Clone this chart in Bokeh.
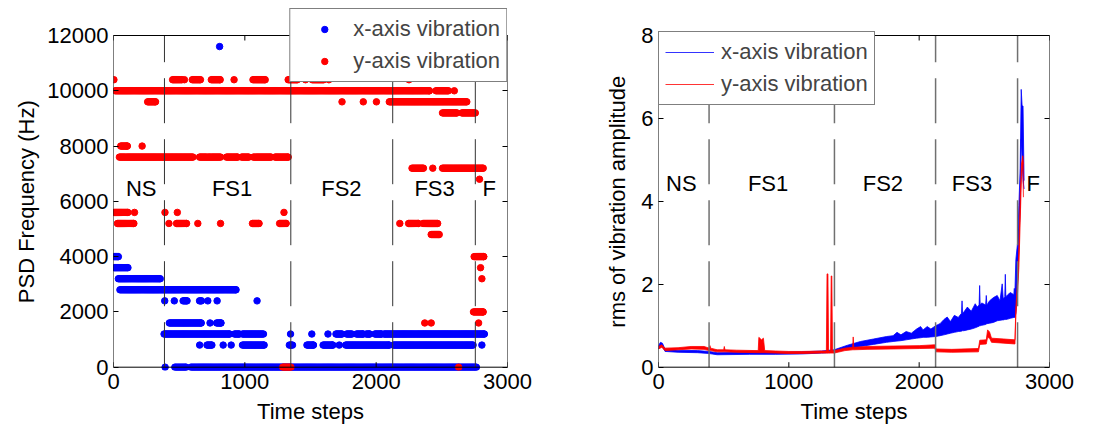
import math
from bokeh.plotting import figure
from bokeh.models import Range1d, LinearAxis, FixedTicker, Legend, LegendItem
from bokeh.layouts import row
from bokeh.embed import file_html
from bokeh.resources import INLINE
from bokeh.core.properties import value

FONT = "Liberation Sans"

# ---------------- shared stage information ----------------
boundaries = [388, 1350, 2126, 2755]
stage_names = ["NS", "FS1", "FS2", "FS3", "F"]
stage_x_left = [211, 903, 1735, 2445, 2860]
stage_y_left = 6450
stage_x_right = [175, 841, 1722, 2405, 2875]
stage_y_right = 4.42

x_ticks = [0, 1000, 2000, 3000]
psd_ticks = [0, 2000, 4000, 6000, 8000, 10000, 12000]
rms_ticks = [0, 2, 4, 6, 8]
t_min, t_max = 0, 3000
psd_min, psd_max = 0, 12000
rms_min, rms_max = 0, 8

# ---------------- left: PSD peak frequency runs (time-step ranges) ----------------
x_psd_start = [0, 0, 37, 49,
               390, 463, 530, 655, 718, 789, 1093,
               425, 735, 785,
               385, 921, 982, 1348, 1510, 1633, 1694, 1775, 1850, 1925, 1990, 2060,
               656, 712, 835, 896, 982, 1339, 1473, 1596, 1719, 1768, 2131, 2805,
               393, 467, 589,
               808]
x_psd_end = [37, 110, 356, 933,
             390, 463, 560, 670, 718, 789, 1093,
             668, 735, 818,
             884, 958, 1142, 1348, 1510, 1633, 1740, 1815, 1900, 1950, 2040, 2824,
             656, 749, 835, 896, 1147, 1363, 1522, 1669, 1719, 2099, 2738, 2805,
             393, 553, 2763,
             808]
x_psd_freq = [4000, 3600, 3200, 2800,
              2400, 2400, 2400, 2400, 2400, 2400, 2400,
              1600, 1600, 1600,
              1200, 1200, 1200, 1200, 1200, 1200, 1200, 1200, 1200, 1200, 1200, 1200,
              800, 800, 800, 800, 800, 800, 800, 800, 800, 800, 800, 800,
              0, 0, 0,
              11600]

y_psd_start = [3, 450, 540, 600, 745, 918, 1062, 1330, 1462, 1513, 1640, 2250,
               12, 2455, 2595,
               260, 1740, 1902, 2002, 2100,
               2505, 2652,
               55, 218,
               45, 655, 860, 975, 1065, 1230,
               2273, 2431, 2505,
               2787,
               0, 160, 392, 486, 1298,
               30, 422, 480, 642, 815, 1058, 1265, 2180, 2247, 2357,
               2419,
               2746, 2795, 2805, 2741,
               2370, 2419, 2780,
               1289, 2628]
y_psd_end = [3, 521, 540, 662, 812, 918, 1155, 1400, 1462, 1600, 1640, 2250,
             2405, 2550, 2595,
             320, 1740, 1902, 2002, 2690,
             2615, 2755,
             105, 218,
             605, 815, 945, 1030, 1200, 1330,
             2360, 2431, 2815,
             2787,
             110, 160, 392, 486, 1298,
             155, 422, 556, 642, 815, 1108, 1314, 2180, 2320, 2468,
             2480,
             2819, 2795, 2805, 2814,
             2370, 2419, 2780,
             1351, 2628]
y_psd_freq = [10400] * 12 + [10000] * 3 + [9600] * 5 + [9200] * 2 + [8000] * 2 + \
             [7600] * 6 + [7200] * 3 + [6800] + [5600] * 5 + [5200] * 10 + [4800] + \
             [4000, 3600, 3200, 2000] + [1600] * 3 + [0, 0]

# ---------------- right: rms envelopes (low / high) ----------------
rms_x_t = [0, 15, 30, 50, 150, 300, 388, 450, 700, 900,
           1100, 1250, 1348, 1450, 1550, 1650, 1750, 1800, 1830, 1860,
           1900, 1940, 1980, 2011, 2030, 2062, 2090, 2126, 2160, 2190,
           2215, 2240, 2270, 2300, 2325, 2329, 2333, 2343, 2370, 2400,
           2430, 2445, 2460, 2464, 2468, 2480, 2510, 2515, 2520, 2540,
           2570, 2599, 2620, 2637, 2645, 2657, 2661, 2665, 2680, 2700,
           2726, 2730, 2734, 2742, 2755, 2765, 2775, 2783, 2790, 2797, 2805]
rms_x_lo = [0.44, 0.52, 0.50, 0.38, 0.36, 0.35, 0.33, 0.30, 0.31, 0.31,
            0.32, 0.34, 0.36, 0.44, 0.50, 0.55, 0.60, 0.62, 0.63, 0.64,
            0.66, 0.68, 0.70, 0.71, 0.72, 0.72, 0.73, 0.74, 0.76, 0.78,
            0.80, 0.82, 0.84, 0.86, 0.87, 0.88, 0.88, 0.88, 0.90, 0.92,
            0.95, 0.97, 0.99, 1.00, 1.00, 1.01, 1.03, 1.04, 1.05, 1.06,
            1.08, 1.12, 1.13, 1.14, 1.14, 1.15, 1.15, 1.15, 1.16, 1.18,
            1.20, 1.20, 1.20, 1.30, 2.00, 3.00, 3.90, 5.50, 5.00, 4.50, 4.30]
rms_x_hi = [0.52, 0.60, 0.58, 0.44, 0.41, 0.40, 0.38, 0.35, 0.36, 0.36,
            0.37, 0.39, 0.42, 0.53, 0.62, 0.68, 0.74, 0.76, 0.84, 0.78,
            0.86, 0.82, 0.92, 0.98, 0.90, 0.98, 0.92, 1.00, 1.05, 1.15,
            1.21, 1.10, 1.25, 1.20, 1.30, 1.60, 1.30, 1.33, 1.45, 1.35,
            1.53, 1.45, 1.50, 1.97, 1.50, 1.55, 1.50, 1.73, 1.50, 1.60,
            1.68, 1.73, 1.60, 2.01, 1.65, 1.70, 2.24, 1.70, 1.75, 1.80,
            1.75, 1.90, 1.75, 2.60, 3.00, 3.90, 4.80, 6.70, 6.30, 6.30, 4.50]

rms_y_t = [0, 25, 50, 150, 250, 350, 388, 395, 400, 450,
           500, 505, 510, 600, 765, 770, 790, 805, 815, 900,
           1000, 1100, 1250, 1288, 1293, 1300, 1305, 1320, 1325, 1330,
           1335, 1348, 1430, 1490, 1494, 1498, 1600, 1800, 2000, 2120,
           2130, 2250, 2455, 2465, 2515, 2525, 2540, 2555, 2650, 2735,
           2742, 2755, 2765, 2775, 2785, 2795, 2800]
rms_y_lo = [0.44, 0.48, 0.40, 0.42, 0.44, 0.43, 0.40, 0.40, 0.40, 0.37,
            0.37, 0.37, 0.37, 0.36, 0.35, 0.35, 0.35, 0.35, 0.35, 0.34,
            0.33, 0.33, 0.34, 0.34, 0.34, 0.34, 0.34, 0.34, 0.34, 0.34,
            0.34, 0.34, 0.40, 0.42, 0.42, 0.42, 0.43, 0.44, 0.45, 0.46,
            0.37, 0.36, 0.37, 0.55, 0.56, 0.72, 0.70, 0.60, 0.58, 0.56,
            1.25, 1.80, 2.40, 3.50, 4.60, 4.90, 4.10]
rms_y_hi = [0.50, 0.54, 0.46, 0.47, 0.50, 0.50, 0.46, 0.52, 0.46, 0.42,
            0.42, 0.50, 0.42, 0.41, 0.40, 0.72, 0.66, 0.70, 0.40, 0.39,
            0.38, 0.38, 0.39, 0.39, 2.25, 2.25, 0.39, 0.39, 2.20, 2.20,
            0.39, 0.40, 0.46, 0.48, 0.73, 0.48, 0.50, 0.51, 0.52, 0.54,
            0.44, 0.43, 0.45, 0.65, 0.66, 0.90, 0.85, 0.70, 0.68, 0.66,
            1.45, 2.10, 2.90, 4.10, 4.90, 5.10, 4.90]

# frames are taller than the axes box: room above it for a legend, and a little below 0
TOP_PAD_PX = 27      # px between frame top and the top of the axes box
BOTTOM_PAD_PX = 3.3  # px between the axes box bottom and frame bottom
BOX_PX = 331.7       # px height of the axes box


def padded_range(lo, hi):
    upp = (hi - lo) / BOX_PX
    return Range1d(lo - BOTTOM_PAD_PX * upp, hi + TOP_PAD_PX * upp)


def runs_to_points(starts, ends, freqs, step=8):
    xs, ys = [], []
    for s, e, f in zip(starts, ends, freqs):
        ts = list(range(s, e, step)) + [e]
        xs.extend(ts)
        ys.extend([f] * len(ts))
    return xs, ys


def make_fig(width, border_left, border_right, ylo, yhi, yticks, ylabel, ylabel_standoff):
    p = figure(width=width, height=430, x_range=Range1d(t_min, t_max), y_range=padded_range(ylo, yhi),
               output_backend="svg", toolbar_location=None, title_location=None,
               min_border_left=border_left, min_border_right=border_right,
               min_border_top=8, min_border_bottom=60)
    p.add_layout(LinearAxis(ticker=FixedTicker(ticks=yticks)), "right")
    p.below[0].ticker = FixedTicker(ticks=x_ticks)
    p.left[0].ticker = FixedTicker(ticks=yticks)
    p.below[0].axis_label = "Time steps"
    p.left[0].axis_label = ylabel
    for ax in p.left + p.right + p.below:
        ax.axis_line_color = None
        ax.major_tick_line_color = "black"
        ax.major_tick_in = 5
        ax.major_tick_out = 0
        ax.minor_tick_line_color = None
        ax.major_label_text_font = FONT
        ax.major_label_text_font_size = "22px"
        ax.major_label_text_color = "black"
        ax.axis_label_text_font = FONT
        ax.axis_label_text_font_size = "22px"
        ax.axis_label_text_font_style = "normal"
        ax.axis_label_text_color = "black"
    p.right[0].major_label_text_font_size = "0px"
    p.right[0].major_label_standoff = 0
    p.below[0].major_tick_line_color = None
    p.below[0].major_label_standoff = 3
    p.below[0].axis_label_standoff = 7
    p.left[0].major_label_standoff = 5
    p.left[0].axis_label_standoff = ylabel_standoff
    p.xgrid.visible = False
    p.ygrid.visible = False
    p.outline_line_color = None
    p.background_fill_color = "white"
    return p


def draw_box(p, ylo, yhi):
    p.segment(x0=[t_min, t_max, t_min, t_min], y0=[ylo, ylo, ylo, yhi],
              x1=[t_min, t_max, t_max, t_max], y1=[yhi, yhi, ylo, yhi],
              line_color="black", line_width=1)
    p.ray(x=x_ticks, y=[ylo] * len(x_ticks), length=5, length_units="screen", angle=math.pi / 2,
          line_color="black", line_width=1)
    p.ray(x=x_ticks, y=[yhi] * len(x_ticks), length=5, length_units="screen", angle=-math.pi / 2,
          line_color="black", line_width=1)


# ---------------- left figure ----------------
p1 = make_fig(548, 113, 41, psd_min, psd_max, psd_ticks,
              "PSD Frequency (Hz)\u00a0\u00a0\u00a0\u00a0", 5)

bx, by = runs_to_points(x_psd_start, x_psd_end, x_psd_freq)
rx, ry = runs_to_points(y_psd_start, y_psd_end, y_psd_freq)
rb = p1.scatter(bx, by, size=6.5, color="blue", marker="circle")
rr = p1.scatter(rx, ry, size=6.5, color="red", marker="circle")

p1.segment(x0=boundaries, y0=[psd_min] * 4, x1=boundaries, y1=[psd_max] * 4,
           line_color="#333333", line_width=1, line_dash="45 16")
draw_box(p1, psd_min, psd_max)
p1.text(x=stage_x_left, y=[stage_y_left] * 5, text=stage_names,
        text_font=value(FONT), text_font_size="22px", text_align="center",
        text_baseline="middle", text_color="black")

leg1 = Legend(items=[LegendItem(label="x-axis vibration", renderers=[rb]),
                     LegendItem(label="y-axis vibration", renderers=[rr])],
              location="top_right", margin=0, padding=6, spacing=4,
              glyph_width=56, glyph_height=16, label_height=28, label_standoff=1,
              label_text_font=FONT, label_text_font_size="22px",
              border_line_color="black", border_line_width=1,
              background_fill_color="white", background_fill_alpha=1)
p1.add_layout(leg1)

# ---------------- right figure ----------------
p2 = make_fig(550, 110, 49, rms_min, rms_max, rms_ticks,
              "rms of vibration amplitude\u00a0\u00a0\u00a0\u00a0", 8)

p2.varea(x=rms_x_t, y1=rms_x_lo, y2=rms_x_hi, fill_color="blue")
p2.line(rms_x_t, rms_x_lo, line_color="blue", line_width=0.8)
lb = p2.line(rms_x_t, rms_x_hi, line_color="blue", line_width=0.8)
p2.varea(x=rms_y_t, y1=rms_y_lo, y2=rms_y_hi, fill_color="red")
p2.line(rms_y_t, rms_y_lo, line_color="red", line_width=0.8)
lr = p2.line(rms_y_t, rms_y_hi, line_color="red", line_width=0.8)

p2.segment(x0=boundaries, y0=[rms_min] * 4, x1=boundaries, y1=[rms_max] * 4,
           line_color="#707070", line_width=1.5, line_dash="45 16")
draw_box(p2, rms_min, rms_max)
p2.text(x=stage_x_right, y=[stage_y_right] * 5, text=stage_names,
        text_font=value(FONT), text_font_size="22px", text_align="center",
        text_baseline="middle", text_color="black")

leg2 = Legend(items=[LegendItem(label="x-axis vibration", renderers=[lb]),
                     LegendItem(label="y-axis vibration", renderers=[lr])],
              location=(0, 265), margin=0, padding=6, spacing=4,
              glyph_width=49, glyph_height=28, label_height=28, label_standoff=7,
              label_text_font=FONT, label_text_font_size="22px",
              border_line_color="black", border_line_width=1,
              background_fill_color="white", background_fill_alpha=1)
p2.add_layout(leg2)

layout = row(p1, p2)
open("out.html", "w").write(file_html(layout, INLINE))
